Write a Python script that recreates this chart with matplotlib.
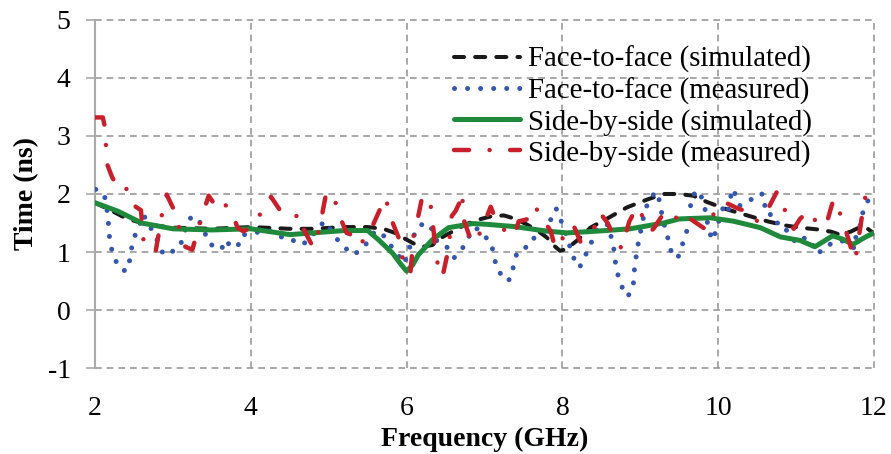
import matplotlib
matplotlib.use("Agg")
import matplotlib.pyplot as plt

plt.rcParams['font.family'] = ['Liberation Serif', 'DejaVu Serif']

# Face-to-face, simulated
f2f_sim_f = [2.0, 2.2, 2.4, 2.6, 2.8, 3.0, 3.5, 4.0, 4.5, 4.8, 5.2, 5.5, 5.7, 5.85, 5.95,
             6.1, 6.2, 6.33, 6.45, 6.6, 6.75, 6.9, 7.1, 7.25, 7.4, 7.55, 7.7, 7.8, 7.9,
             7.97, 8.05, 8.2, 8.36, 8.58, 8.83, 9.1, 9.3, 9.5, 9.68, 9.86, 10.1, 10.4,
             10.63, 10.85, 11.05, 11.27, 11.45, 11.56, 11.7, 11.82, 11.92, 12.0]
f2f_sim_t = [1.85, 1.72, 1.58, 1.50, 1.45, 1.42, 1.40, 1.43, 1.40, 1.40, 1.43, 1.43, 1.40,
             1.33, 1.25, 1.14, 1.09, 1.12, 1.25, 1.36, 1.47, 1.55, 1.62, 1.63, 1.57, 1.47,
             1.35, 1.25, 1.10, 1.02, 1.05, 1.21, 1.42, 1.58, 1.77, 1.91, 2.00, 2.00, 1.97,
             1.86, 1.74, 1.62, 1.53, 1.46, 1.42, 1.39, 1.35, 1.30, 1.35, 1.43, 1.40, 1.32]

# Face-to-face, measured
f2f_meas_f = [2.01, 2.12, 2.15, 2.17, 2.18, 2.20, 2.25, 2.31, 2.38, 2.43, 2.45, 2.48, 2.52,
              2.57, 2.61, 2.68, 2.74, 2.82, 2.88, 2.97, 3.09, 3.14, 3.19, 3.23, 3.28, 3.34,
              3.41, 3.47, 3.62, 3.68, 3.74, 3.83, 3.89, 3.98, 4.11, 4.21, 4.32, 4.43, 4.53,
              4.65, 4.76, 4.85, 4.95, 5.13, 5.23, 5.32, 5.45, 5.60, 5.74, 5.82, 5.89, 5.97,
              6.07, 6.13, 6.23, 6.33, 6.40, 6.52, 6.61, 6.68, 6.78, 6.83, 6.91, 7.00, 7.09,
              7.12, 7.16, 7.21, 7.27, 7.33, 7.37, 7.41, 7.50, 7.58, 7.70, 7.78, 7.87, 7.92,
              7.98, 8.04, 8.14, 8.22, 8.27, 8.34, 8.45, 8.55, 8.59, 8.66, 8.68, 8.71, 8.76,
              8.84, 8.91, 8.92, 8.94, 8.97, 9.00, 9.03, 9.06, 9.13, 9.21, 9.26, 9.28, 9.36,
              9.40, 9.48, 9.53, 9.59, 9.62, 9.66, 9.76, 9.85, 9.87, 9.93, 9.97, 10.06, 10.12,
              10.18, 10.23, 10.28, 10.34, 10.46, 10.56, 10.58, 10.64, 10.68, 10.71, 10.82,
              10.92, 11.01, 11.09, 11.19, 11.24, 11.29, 11.39, 11.50, 11.58, 11.67, 11.76,
              11.77, 11.84, 11.86, 11.92, 11.96]
f2f_meas_t = [2.08, 1.99, 1.77, 1.55, 1.33, 1.11, 0.90, 0.72, 0.68, 0.70, 0.92, 1.14, 1.31,
              1.44, 1.65, 1.53, 1.34, 1.15, 0.95, 0.99, 1.09, 1.30, 1.51, 1.59, 1.62, 1.53,
              1.33, 1.14, 1.04, 1.21, 1.09, 1.09, 1.30, 1.30, 1.35, 1.37, 1.34, 1.22, 1.21,
              1.12, 1.22, 1.40, 1.53, 1.18, 1.05, 0.95, 1.08, 1.37, 1.25, 1.06, 0.95, 0.80,
              1.20, 1.40, 1.51, 1.39, 1.15, 1.08, 0.90, 1.00, 1.18, 1.39, 1.40, 1.28, 1.14,
              0.93, 0.71, 0.62, 0.50, 0.53, 0.74, 0.95, 1.00, 1.21, 1.27, 1.37, 1.61, 1.75,
              1.55, 1.33, 0.91, 0.73, 0.88, 1.06, 1.42, 1.47, 1.47, 1.06, 0.83, 0.62, 0.41,
              0.23, 0.42, 0.64, 0.86, 1.12, 1.33, 1.53, 1.72, 1.94, 2.04, 1.82, 1.61, 1.21,
              0.99, 0.89, 1.09, 1.32, 1.51, 1.97, 2.06, 1.65, 1.40, 1.20, 1.37, 1.75, 1.65,
              2.09, 1.97, 1.80, 1.87, 1.92, 2.01, 1.80, 1.81, 1.59, 1.50, 1.50,
              1.28, 1.15, 1.24, 1.22, 1.00, 0.98, 1.12, 1.15, 1.20, 1.12, 1.06,
              1.33, 1.50, 1.71, 1.88, 2.00]

# Side-by-side, simulated
sbs_sim_f = [2.0, 2.3, 2.6, 3.0, 3.5, 4.0, 4.5, 4.8, 5.2, 5.5, 5.64, 5.82, 5.92, 6.0, 6.08,
             6.15, 6.33, 6.54, 6.85, 7.0, 7.37, 7.8, 8.06, 8.45, 8.87, 9.3, 9.5, 9.9, 10.2,
             10.54, 10.8, 11.05, 11.24, 11.35, 11.47, 11.6, 11.73, 11.88, 12.0]
sbs_sim_t = [1.85, 1.70, 1.50, 1.40, 1.38, 1.40, 1.30, 1.33, 1.37, 1.37, 1.21, 0.98, 0.80,
             0.67, 0.78, 0.95, 1.21, 1.42, 1.49, 1.48, 1.44, 1.36, 1.33, 1.36, 1.40, 1.50,
             1.57, 1.59, 1.53, 1.42, 1.26, 1.20, 1.09, 1.18, 1.28, 1.22, 1.13, 1.25, 1.33]

# Side-by-side, measured
sbs_meas_f = [2.00, 2.10, 2.12, 2.14, 2.16, 2.22, 2.32, 2.40, 2.48, 2.59, 2.63, 2.78, 2.82,
              2.86, 2.92, 3.02, 3.08, 3.16, 3.25, 3.31, 3.38, 3.46, 3.52, 3.59, 3.76, 3.83,
              3.90, 3.96, 4.12, 4.26, 4.38, 4.53, 4.64, 4.68, 4.80, 4.88, 4.92, 4.97, 5.07,
              5.13, 5.23, 5.36, 5.41, 5.45, 5.56, 5.67, 5.71, 5.74, 5.82, 5.90, 5.95, 6.00,
              6.05, 6.09, 6.15, 6.19, 6.30, 6.32, 6.35, 6.37, 6.41, 6.46, 6.53, 6.56, 6.58,
              6.63, 6.69, 6.71, 6.74, 6.84, 6.92, 6.98, 7.08, 7.14, 7.29, 7.38, 7.44, 7.54,
              7.64, 7.73, 7.85, 7.91, 7.97, 8.14, 8.23, 8.40, 8.48, 8.58, 8.64, 8.76, 8.83,
              8.86, 8.96, 9.11, 9.14, 9.18, 9.32, 9.51, 9.56, 9.61, 9.85, 9.95, 10.08, 10.27,
              10.44, 10.50, 10.63, 10.75, 10.83, 10.88, 10.97, 11.05, 11.16, 11.30, 11.40,
              11.48, 11.56, 11.60, 11.67, 11.73, 11.76, 11.86, 11.90]
sbs_meas_t = [3.32, 3.32, 3.20, 2.85, 2.50, 2.29, 2.06, 2.10, 1.82, 1.72, 1.09, 1.02, 1.33,
              1.65, 1.99, 1.71, 1.42, 1.09, 1.04, 1.33, 1.65, 1.97, 1.85, 1.95, 1.67, 1.42,
              1.36, 1.39, 1.65, 1.95, 1.71, 1.59, 1.65, 1.39, 1.08, 1.39, 1.68, 2.03, 1.94,
              1.65, 1.33, 1.26, 1.12, 1.22, 1.44, 1.77, 1.94, 1.88, 1.51, 1.24, 0.89, 0.65,
              0.65, 1.28, 1.62, 1.88, 1.96, 1.65, 1.33, 0.98, 0.74, 0.57, 1.00, 1.33, 1.62,
              1.71, 1.88, 2.03, 1.53, 1.15, 1.27, 1.44, 1.78, 1.57, 1.32, 1.28, 1.53, 1.56,
              1.80, 1.61, 1.36, 1.06, 1.18, 1.47, 1.18, 1.39, 1.68, 1.50, 1.33, 1.06, 1.39,
              1.53, 1.78, 1.42, 1.36, 1.42, 1.71, 1.55, 1.65, 1.60, 1.38, 1.68, 1.86, 1.74,
              1.68, 1.53, 1.72, 2.03, 1.91, 1.55, 1.40, 1.57, 1.71, 1.44, 1.53,
              1.91, 1.68, 1.53, 1.23, 0.95, 0.86, 1.74, 2.03]

x_ticks = [2, 4, 6, 8, 10, 12]
y_ticks = [-1, 0, 1, 2, 3, 4, 5]

fig = plt.figure(figsize=(8.91, 4.54), dpi=100)
ax = fig.add_axes([0.1066, 0.1894, 0.8743, 0.7666])

ax.plot(f2f_sim_f, f2f_sim_t, color="#1a1a1a", lw=2.9, linestyle=(0, (2.5, 2.75)),
        dash_capstyle="round", label="Face-to-face (simulated)", zorder=3)
ax.plot(f2f_meas_f, f2f_meas_t, color="#3457ad", lw=3.6, linestyle=(0, (0.01, 2.6)),
        dash_capstyle="round", label="Face-to-face (measured)", zorder=4)
ax.plot(sbs_sim_f, sbs_sim_t, color="#1f8a3c", lw=3.6, solid_capstyle="round",
        label="Side-by-side (simulated)", zorder=5)
ax.plot(sbs_meas_f, sbs_meas_t, color="#c8202a", lw=3.2, linestyle=(0, (3.4, 4.6, 0.01, 4.6)),
        dash_capstyle="round", label="Side-by-side (measured)", zorder=6)

ax.set_xlim(2, 12)
ax.set_ylim(-1, 5)
ax.set_xticks(x_ticks)
ax.set_yticks(y_ticks)
ax.set_xticklabels([str(v) for v in x_ticks])
ax.set_yticklabels([str(v) for v in y_ticks])
ax.tick_params(axis="x", length=0, labelsize=20, pad=20)
ax.tick_params(axis="y", length=6.5, width=1.2, color="#aaaaaa", direction="out",
               labelsize=20, pad=11)
ax.grid(True, color="#999999", linestyle=(0, (4, 3)), lw=1.2)
ax.set_axisbelow(True)
for s in ["top", "right", "bottom"]:
    ax.spines[s].set_visible(False)
ax.spines["left"].set_color("#aaaaaa")
ax.spines["left"].set_linewidth(1.5)
for gl in ax.get_xgridlines() + ax.get_ygridlines():
    gl.set_clip_on(False)

ax.set_xlabel("Frequency (GHz)", fontsize=20, fontweight="bold", labelpad=4)
ax.set_ylabel("Time (ns)", fontsize=20, fontweight="bold", labelpad=6)

ax.legend(loc="upper right", bbox_to_anchor=(0.92, 0.925), frameon=False, fontsize=20.8,
          handlelength=2.3, handletextpad=0.25, labelspacing=0.14, borderaxespad=0,
          borderpad=0)

fig.savefig("out.png", dpi=100)
